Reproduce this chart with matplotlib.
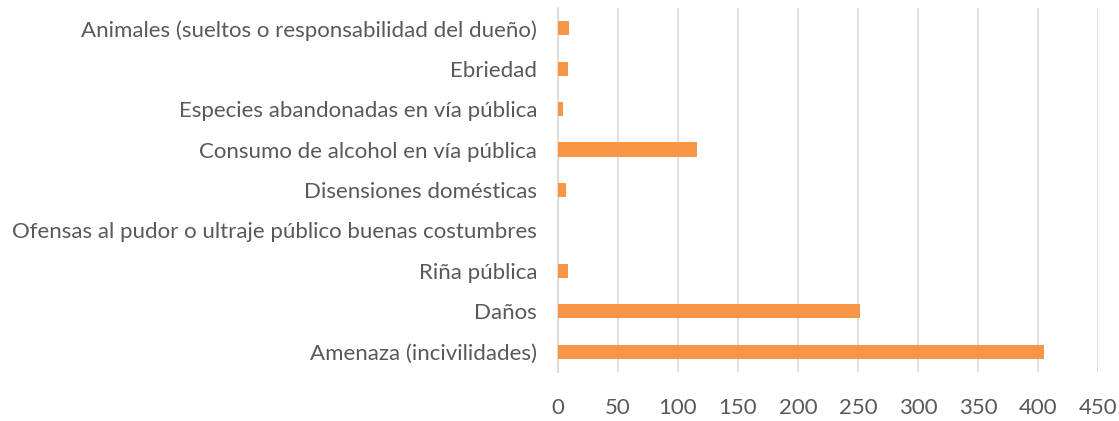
import numpy as np
import matplotlib
matplotlib.use('Agg')
import matplotlib.pyplot as plt

categories = [
    'Amenaza (incivilidades)',
    'Daños',
    'Riña pública',
    'Ofensas al pudor o ultraje público buenas costumbres',
    'Disensiones domésticas',
    'Consumo de alcohol en vía pública',
    'Especies abandonadas en vía pública',
    'Ebriedad',
    'Animales (sueltos o responsabilidad del dueño)',
]
counts = [405, 252, 8, 0, 7, 116, 4, 8, 9]
x_ticks = [0, 50, 100, 150, 200, 250, 300, 350, 400, 450]

bar_clr = '#F79646'
txt_clr = '#595959'
grid_clr = '#D9D9D9'

plt.rcParams['font.family'] = ['Lato', 'DejaVu Sans']


def main():
    fig = plt.figure(figsize=(11.19, 4.21), dpi=100)
    ax = fig.add_axes([558 / 1119, 1 - 372 / 421, 540 / 1119, 364 / 421])

    y_pos = np.arange(len(categories))
    ax.barh(y_pos, counts, height=0.35, color=bar_clr, zorder=3)

    ax.set_xlim(0, 450)
    ax.set_ylim(-0.5, len(categories) - 0.5)

    ax.set_xticks(x_ticks)
    ax.set_xticklabels([str(t) for t in x_ticks])
    ax.set_yticks(y_pos)
    ax.set_yticklabels(categories)

    ax.tick_params(axis='both', length=0, labelsize=16, colors=txt_clr)
    ax.tick_params(axis='x', pad=19)
    ax.tick_params(axis='y', pad=15)

    ax.grid(axis='x', color=grid_clr, linewidth=1.2, zorder=0)
    for side in ['top', 'right', 'bottom']:
        ax.spines[side].set_visible(False)
    ax.spines['left'].set_color(grid_clr)
    ax.spines['left'].set_linewidth(1.2)

    fig.savefig('out.png', dpi=100)
    plt.close(fig)
    return


if __name__ == '__main__':
    main()
